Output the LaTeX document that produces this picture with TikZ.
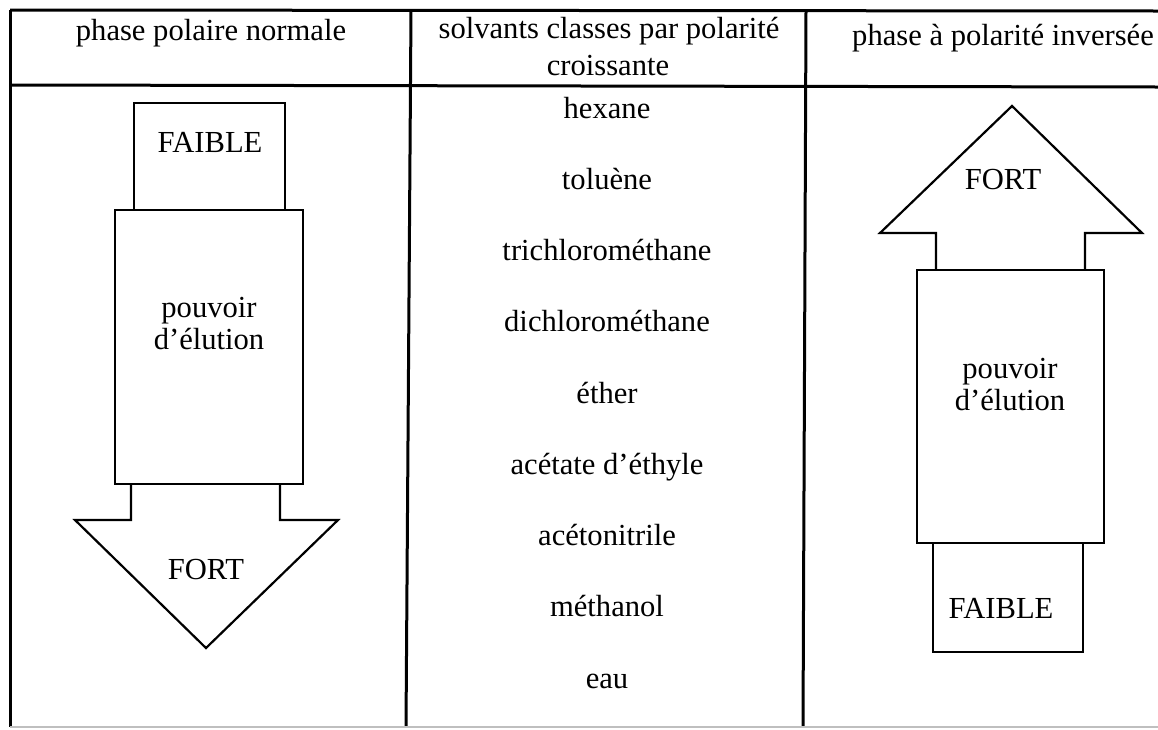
\documentclass[tikz,border=0pt]{standalone}
\usepackage{fontspec}
\setmainfont{Liberation Serif}
\begin{document}
\begin{tikzpicture}[x=1pt,y=-1pt,
  rule/.style={line width=3pt,black},
  faint/.style={line width=1.5pt,black!25},
  outline/.style={line width=2.2pt,black,line join=miter},
  lbl/.style={anchor=base,inner sep=0pt,font=\fontsize{30.6}{35}\selectfont}]
\useasboundingbox (0,0) rectangle (1158,729);

% table frame
\coordinate (tl) at (10,10);
\coordinate (tr) at (1158,11);
\coordinate (hl) at (10,85);
\coordinate (hr) at (1158,87);
\coordinate (bl) at (10,727);
\coordinate (br) at (1158,727);
\coordinate (c1t) at (411,10);
\coordinate (c1b) at (406,727);
\coordinate (c2t) at (806,10);
\coordinate (c2b) at (803,727);
\draw[rule] (tl) -- (tr);
\draw[rule] (hl) -- (hr);
\draw[rule] (tl) -- (bl);
\draw[rule] (c1t) -- (c1b);
\draw[rule] (c2t) -- (c2b);
\draw[faint] (bl) -- (br);

% column headings
\node[lbl] (h1) at (211,40) {phase polaire normale};
\node[lbl] (h2a) at (609,38) {solvants classes par polarité};
\node[lbl] (h2b) at (608,75) {croissante};
\node[lbl] (h3) at (1003,45) {phase à polarité inversée};

% normal phase: arrow pointing down
\draw[outline] (134,210) -- (134,103) -- (285,103) -- (285,210);
\draw[outline] (115,210) rectangle (303,484);
\draw[outline] (131,484) -- (131,520) -- (75,520) -- (206,648) -- (338,520) -- (280,520) -- (280,484);
\node[lbl] (lweak) at (210,152) {FAIBLE};
\node[lbl] (lpow1) at (209,317) {pouvoir};
\node[lbl] (lpow2) at (209,349) {d'élution};
\node[lbl] (lstrong) at (206,579) {FORT};

% solvents by increasing polarity
\foreach \s [count=\i from 0] in {hexane,toluène,trichlorométhane,dichlorométhane,éther,acétate d'éthyle,acétonitrile,méthanol,eau}
  \node[lbl] (s\i) at (607,118+71.25*\i) {\s};

% reversed phase: arrow pointing up
\draw[outline] (936,270) -- (936,233) -- (880,233) -- (1012,106) -- (1142,233) -- (1085,233) -- (1085,270);
\draw[outline] (917,270) rectangle (1104,543);
\draw[outline] (933,543) -- (933,652) -- (1083,652) -- (1083,543);
\node[lbl] (rstrong) at (1003,189) {FORT};
\node[lbl] (rpow1) at (1010,378) {pouvoir};
\node[lbl] (rpow2) at (1010,410) {d'élution};
\node[lbl] (rweak) at (1001,618) {FAIBLE};
\end{tikzpicture}
\end{document}
